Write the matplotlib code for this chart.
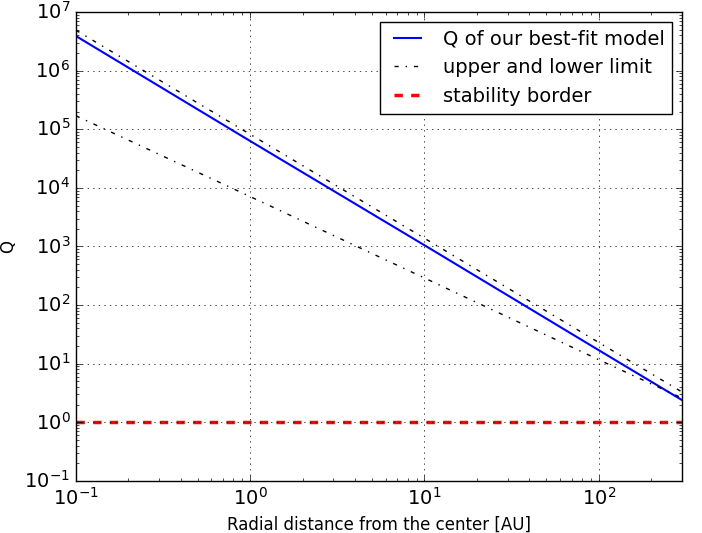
import matplotlib
matplotlib.use("Agg")
import matplotlib.pyplot as plt

# radial distance [AU]
r = [0.1, 1.0, 10.0, 100.0, 300.0]

# Q values
q_fit = [3.9e6, 6.3e4, 1.05e3, 17.0, 2.4]
q_upper = [4.9e6, 8.2e4, 1.38e3, 23.0, 3.3]
q_lower = [1.7e5, 7.1e3, 2.9e2, 11.7, 2.6]
q_stable = [1.0, 1.0, 1.0, 1.0, 1.0]

plt.style.use("classic")

fig, ax = plt.subplots(figsize=(7.02, 5.33), dpi=100)
fig.subplots_adjust(left=0.108, right=0.9715, top=0.9775, bottom=0.0976)

ax.plot(r, q_fit, "b-", lw=1.5, label="Q of our best-fit model")
ax.plot(r, q_upper, "k-.", lw=1, label="upper and lower limit")
ax.plot(r, q_lower, "k-.", lw=1)
ax.plot(r, q_stable, "r--", lw=2.5, label="stability border")

ax.set_xscale("log")
ax.set_yscale("log")
ax.set_xlim(0.1, 300)
ax.set_ylim(0.1, 1e7)
ax.grid(True)
ax.tick_params(labelsize=14)
ax.set_xlabel("Radial distance from the center [AU]", fontsize=12)
ax.set_ylabel("Q", fontsize=12)
ax.legend(loc="upper right", fontsize=14)

fig.savefig("out.png", dpi=100)
